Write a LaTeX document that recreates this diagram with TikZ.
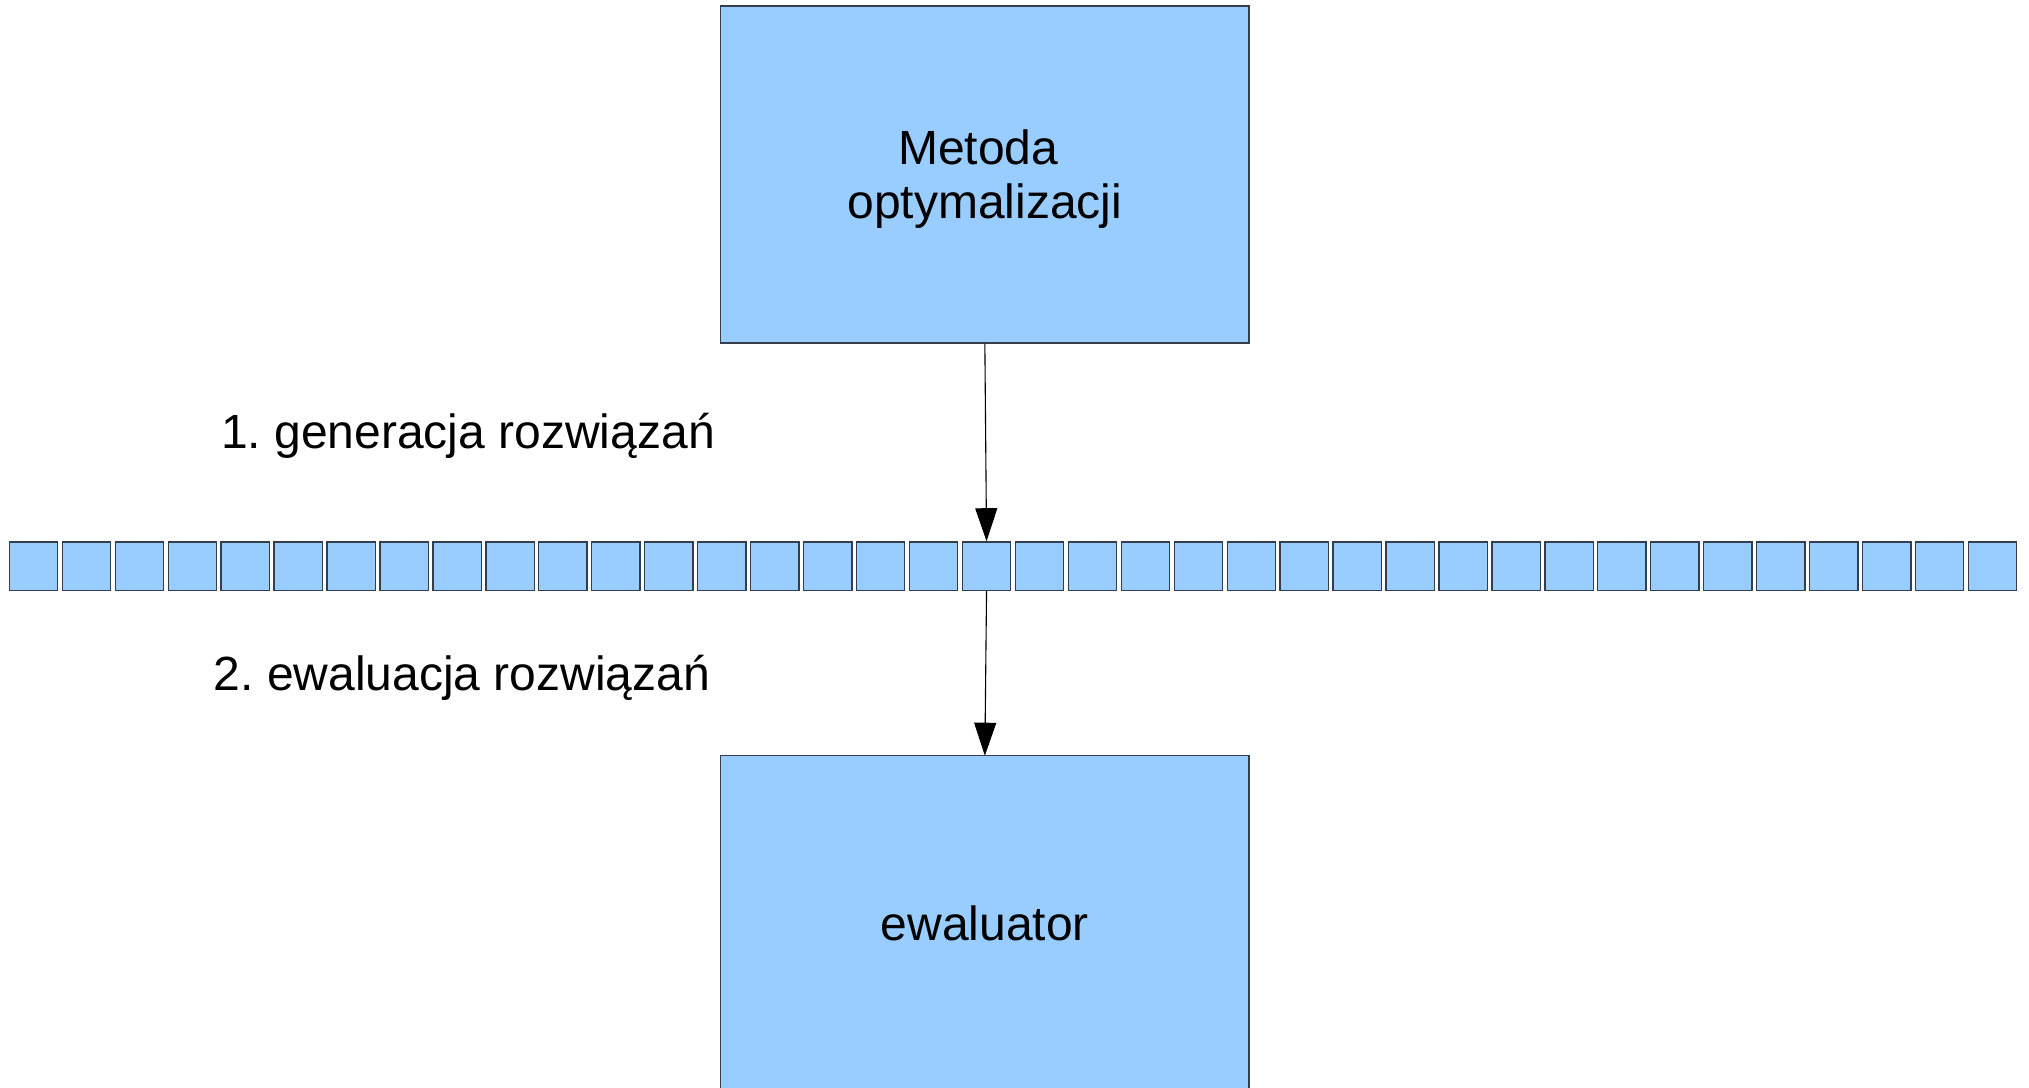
\documentclass[tikz,border=0pt]{standalone}
\usepackage{fontspec}
\setmainfont{Liberation Sans}
\usetikzlibrary{arrows.meta}
\definecolor{boxfill}{RGB}{153,204,255}
\definecolor{boxline}{RGB}{52,62,76}
\begin{document}
\frenchspacing
\begin{tikzpicture}[x=1pt,y=-1pt,
  bigbox/.style={draw=boxline,line width=1.3pt,fill=boxfill,inner sep=0pt,minimum width=528.3pt,minimum height=336.8pt},
  cell/.style={draw=boxline,line width=1.3pt,fill=boxfill,inner sep=0pt,minimum size=48.3pt},
  txt/.style={inner sep=0pt,font=\fontsize{48}{53.3}\selectfont\frenchspacing,align=center},
  arr/.style={draw=black,line width=1.1pt,-{Triangle[length=33pt,width=22pt]}}]
\useasboundingbox (0,0) rectangle (2029,1087);
\begin{scope}
\clip (0,0) rectangle (2029,1087);
\node[bigbox] (opt) at (984.85,174.5) {};
\node[bigbox] (ev) at (984.85,924.1) {};
\end{scope}
\node[txt] (optlbl) at (984.85,179.2) {Metoda\hspace*{0.278em}\\optymalizacji};
\node[txt,anchor=base] (evlbl) at (984.85,940) {ewaluator};
\foreach \i in {0,...,37}{
  \node[cell] (s\i) at ({9.3+52.95*\i+24.15},566) {};
}
\node[txt,anchor=base west] (l1) at (221,448) {1. generacja rozwiązań};
\node[txt,anchor=base west] (l2) at (213.5,690.5) {2. ewaluacja rozwiązań};
\draw[arr] (opt.south) -- (s18.north);
\draw[arr] (s18.south) -- (984.85,755.7);
\end{tikzpicture}
\end{document}
